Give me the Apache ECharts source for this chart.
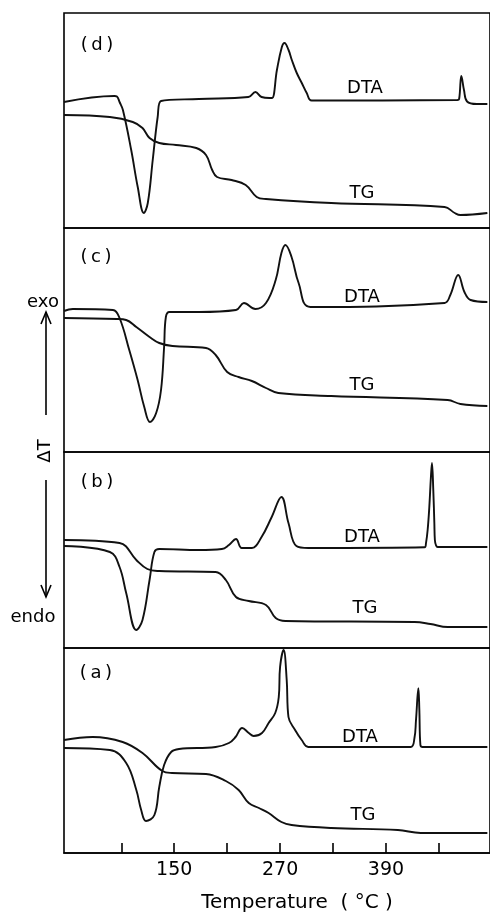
<!DOCTYPE html>
<html>
<head>
<meta charset="utf-8">
<script src="https://cdn.jsdelivr.net/npm/echarts@6/dist/echarts.min.js"></script>
<style>
html, body { margin: 0; padding: 0; background: #fff; }
#main { width: 490px; height: 915px; }
</style>
</head>
<body>
<div id="main"></div>
<script>
// panels from top to bottom: (d) (c) (b) (a); values are [temperature, signal (arb. units)]
var panelNames = ['(\u2009d\u2009)', '(\u2009c\u2009)', '(\u2009b\u2009)', '(\u2009a\u2009)'];

var dtaD = [[25,126],[82,132],[85,131.5],[88,126],[91.8,118],[101.2,78],[108.6,41],[115.5,15],[120,25],[125.6,68],[131.2,111],[135,127],[178,129],[234,131],[242,136],[249,131],[258,130],[261,130],[266.4,158],[272,181],[275,185],[279.6,178],[283.3,168],[288.9,155],[294.6,145],[300.2,135],[305.8,127.5],[471,128],[473,129],[475.5,152],[478.5,138],[482,126.5],[493,124],[505,124]];
var tgD = [[25,113],[77,111],[103,106],[114,100],[122,90],[133,85],[152,83],[175,80],[186,73],[193,58],[198.5,51],[215,48],[231,43],[243.5,31],[254,29],[328,25],[456.5,21],[468,15],[474.5,13],[505,15]];

var dtaC = [[25,141],[35,143],[80.5,142],[88,134],[99,102],[108.5,72],[116,45],[122.5,30],[129.5,39],[135,62],[138.5,105],[140.5,135],[144.5,140],[178,140],[220,142],[229,149],[242,143],[254,149],[265,172],[271.5,199],[276,207],[283,195],[291,169],[304.5,145],[456.5,149],[463,157],[472,177],[479,160],[486,152],[505,150]];
var tgC = [[25,134],[85,133],[95.5,132],[107,125],[122,115],[133,109],[148,106],[186,104],[197,97],[210,80],[223,75],[238,71],[254,64],[268,59],[328,56],[460,52],[474.5,48],[505,46]];

var dtaB = [[25,102],[77,96],[88,81],[95.5,55],[107,18],[114,28],[122,68],[127.5,96],[133,99],[178,98],[204,99],[212,103],[220,109],[226.5,100],[238,100],[249,111],[260.5,131],[271.5,151],[279.5,125],[288.5,102],[302,100],[434,100.7],[435.4,104.7],[437.3,118],[439.2,141],[441,171],[442.2,185],[443.7,158],[444.9,125],[445.5,108],[446.7,103],[448.6,101],[505,101]];
var tgB = [[25,108],[88,105],[107,88],[119.5,79],[133,77],[197,76],[208.5,68],[220,51],[234.5,47],[254,43],[265,30],[276,27],[422.5,26],[440.5,24],[460,21],[505,21]];

var dtaA = [[25,105],[77,103],[95.5,90],[107,63],[112.5,43],[118,32],[127.5,38],[133,66],[138.5,88],[146.5,101],[155.5,104],[197,106],[212,110],[219.5,116],[227,125],[234.5,120],[240,117],[249.5,120],[257,130],[264.5,140],[268.5,156],[270,186],[274,203],[277.5,173],[279.5,136],[287,123],[294.5,113],[302,106],[418,106],[422.3,114.7],[424.1,133],[426.8,164.7],[427.9,143],[429.1,108],[431.5,106],[505,106]];
var tgA = [[25,113],[57.5,116],[91.5,111],[114,100],[136.5,82],[147.5,80],[186,79],[208.5,72],[223,63],[234.5,50],[246,45],[257,40],[271.5,31],[283,28],[328,25],[403.5,23],[429.5,20],[505,20]];

var dtaData = [dtaD, dtaC, dtaB, dtaA];
var tgData = [tgD, tgC, tgB, tgA];

var tickValues = [90, 150, 210, 270, 330, 390, 450];
var labelValues = [150, 270, 390];

// layout of the stacked panels
var panelTop = [13, 228, 452, 648];
var panelHeight = [215, 224, 196, 205];
var dtaPos = [[365, 88], [362, 297], [362, 537], [360, 737]];
var tgPos = [[362, 193], [362, 385], [365, 608], [363, 815]];
var namePos = [[97, 45], [96, 257], [97, 482], [96, 673]];

var font = 'DejaVu Sans';
var chart = echarts.init(document.getElementById('main'));

var grids = [], xAxes = [], yAxes = [], series = [], graphics = [];
for (var i = 0; i < 4; i++) {
    var last = (i == 3);
    grids.push({
        left: 64, right: -3, top: panelTop[i], height: panelHeight[i],
        show: true, borderColor: '#000', borderWidth: 1.6, backgroundColor: 'transparent'
    });
    xAxes.push({
        type: 'value', gridIndex: i, min: 25, max: 508,
        show: last,
        splitLine: { show: false },
        axisLine: { show: true, lineStyle: { color: '#000', width: 1.6 } },
        axisTick: { show: true, inside: true, length: 10, customValues: tickValues, lineStyle: { color: '#000', width: 1.6 } },
        axisLabel: { show: true, customValues: labelValues, margin: 8, color: '#000', fontSize: 19, fontFamily: font },
        name: last ? 'Temperature  ( \u00b0C )' : '',
        nameLocation: 'middle', nameGap: 40,
        nameTextStyle: { color: '#000', fontSize: 20, fontFamily: font, padding: [0, 0, 0, 40] }
    });
    yAxes.push({ type: 'value', gridIndex: i, min: 0, max: panelHeight[i], show: false, splitLine: { show: false } });

    series.push({
        name: 'DTA', type: 'line', xAxisIndex: i, yAxisIndex: i, data: dtaData[i],
        showSymbol: false, smooth: 0.4,
        lineStyle: { color: '#111', width: 1.9 }
    });
    series.push({
        name: 'TG', type: 'line', xAxisIndex: i, yAxisIndex: i, data: tgData[i],
        showSymbol: false, smooth: 0.4,
        lineStyle: { color: '#111', width: 1.9 }
    });

    graphics.push({ type: 'text', x: dtaPos[i][0], y: dtaPos[i][1],
        style: { text: 'DTA', fill: '#000', font: '18px "' + font + '"', align: 'center', verticalAlign: 'middle' } });
    graphics.push({ type: 'text', x: tgPos[i][0], y: tgPos[i][1],
        style: { text: 'TG', fill: '#000', font: '18px "' + font + '"', align: 'center', verticalAlign: 'middle' } });
    graphics.push({ type: 'text', x: namePos[i][0], y: namePos[i][1],
        style: { text: panelNames[i], fill: '#000', font: '18px "' + font + '"', align: 'center', verticalAlign: 'middle' } });
}

// exo / endo arrows on the left
var arrowStyle = { stroke: '#000', lineWidth: 1.6, fill: null };
graphics.push({ type: 'text', x: 43, y: 302, style: { text: 'exo', fill: '#000', font: '18px "' + font + '"', align: 'center', verticalAlign: 'middle' } });
graphics.push({ type: 'line', shape: { x1: 46, y1: 312, x2: 46, y2: 415 }, style: arrowStyle });
graphics.push({ type: 'polyline', shape: { points: [[41, 324], [46, 312], [51, 324]] }, style: arrowStyle });
graphics.push({ type: 'text', x: 45, y: 451, rotation: Math.PI / 2,
    style: { text: '\u0394T', fill: '#000', font: '18px "' + font + '"', align: 'center', verticalAlign: 'middle' } });
graphics.push({ type: 'line', shape: { x1: 46, y1: 480, x2: 46, y2: 597 }, style: arrowStyle });
graphics.push({ type: 'polyline', shape: { points: [[41, 585], [46, 597], [51, 585]] }, style: arrowStyle });
graphics.push({ type: 'text', x: 33, y: 617, style: { text: 'endo', fill: '#000', font: '18px "' + font + '"', align: 'center', verticalAlign: 'middle' } });

var option = {
    backgroundColor: '#fff',
    animation: false,
    grid: grids,
    xAxis: xAxes,
    yAxis: yAxes,
    series: series,
    graphic: graphics
};
chart.setOption(option);
</script>
</body>
</html>
